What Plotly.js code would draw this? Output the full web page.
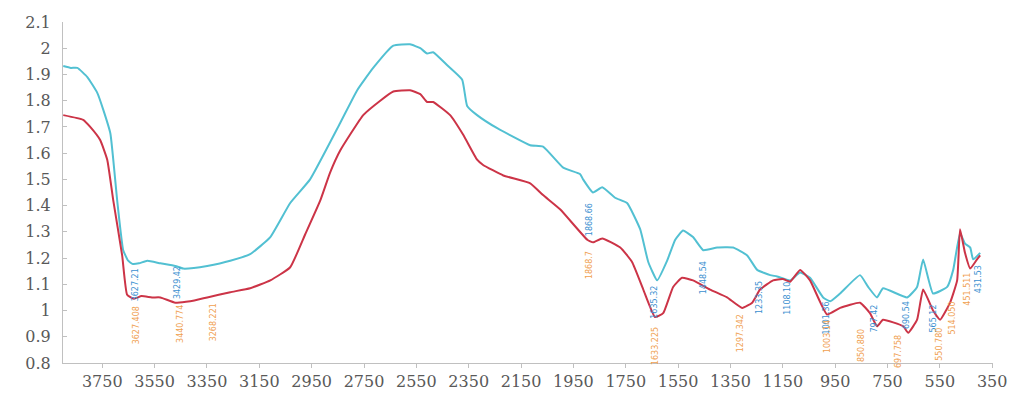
<!DOCTYPE html>
<html>
<head>
<meta charset="utf-8">
<script src="https://cdn.plot.ly/plotly-3.0.1.min.js"></script>
<style>html,body{margin:0;padding:0;background:#fff;}#chart{width:1011px;height:395px;}</style>
</head>
<body>
<div id="chart"></div>
<script>
// Upper (cyan) spectrum
const cyanWn = [3899,3870,3845,3807,3769,3746,3719,3693,3670,3651,3635,3610,3578,3528,3471,3441,3400,3349,3261,3185,3108,3032,2956,2841,2776,2715,2638,2574,2535,2509,2486,2432,2375,2356,2318,2241,2115,2066,1989,1924,1913,1875,1840,1791,1745,1695,1664,1630,1592,1561,1531,1493,1454,1401,1340,1286,1248,1198,1172,1122,1084,1046,996,969,931,855,824,790,767,675,637,614,576,522,499,473,454,434,423,396];
const cyanVal = [1.932,1.925,1.925,1.89,1.83,1.765,1.675,1.42,1.23,1.19,1.178,1.18,1.19,1.18,1.17,1.16,1.162,1.17,1.19,1.215,1.28,1.41,1.50,1.715,1.84,1.925,2.01,2.015,2.0,1.98,1.985,1.935,1.88,1.78,1.745,1.695,1.63,1.625,1.545,1.52,1.50,1.45,1.47,1.43,1.41,1.31,1.185,1.115,1.19,1.27,1.305,1.28,1.23,1.24,1.24,1.21,1.155,1.135,1.13,1.115,1.145,1.125,1.05,1.035,1.065,1.135,1.09,1.05,1.085,1.05,1.09,1.195,1.065,1.09,1.155,1.295,1.255,1.24,1.195,1.22];

// Lower (red) spectrum
const redWn = [3899,3823,3796,3758,3731,3708,3674,3655,3630,3600,3560,3528,3471,3414,3349,3261,3185,3108,3032,2975,2917,2880,2841,2753,2688,2638,2574,2535,2509,2486,2421,2371,2318,2295,2218,2115,2066,2000,1897,1875,1840,1771,1726,1683,1638,1607,1569,1535,1493,1428,1363,1305,1267,1237,1187,1150,1122,1084,1046,981,931,855,817,790,767,690,671,637,614,576,549,511,484,473,454,434,408,396];
const redVal = [1.745,1.727,1.70,1.65,1.575,1.42,1.21,1.06,1.045,1.055,1.05,1.05,1.03,1.035,1.05,1.07,1.085,1.115,1.165,1.29,1.42,1.525,1.61,1.745,1.80,1.835,1.84,1.825,1.795,1.795,1.745,1.67,1.575,1.555,1.515,1.485,1.44,1.385,1.27,1.26,1.275,1.24,1.185,1.08,0.975,0.99,1.09,1.125,1.115,1.08,1.05,1.01,1.03,1.08,1.115,1.12,1.11,1.155,1.115,0.985,1.01,1.03,0.99,0.94,0.965,0.94,0.915,0.965,1.08,1.0,0.965,1.03,1.115,1.31,1.22,1.16,1.195,1.21];

// Peak labels (blue: upper series, orange: lower series)
const blueLabelText = ["3627.21","3429.42","1868.66","1635.32","1448.54","1233.35","1108.10","1001.36","797.42","690.54","565.12","431.53"];
const blueLabelX    = [3624,3464,1890,1638,1454,1237,1130,985,801,679,576,404];
const blueLabelY    = [1.097,1.105,1.345,1.03,1.124,1.048,1.045,0.97,0.97,0.983,0.97,1.12];
const orangeLabelText = ["3627.408","3440.774","3268.221","1868.7","1633.225","1297.342","1003.14","850.880","697.758","550.780","514.050","451.511"];
const orangeLabelX    = [3616,3452,3326,1886,1634,1313,980,847,706,549,503,446];
const orangeLabelY    = [0.945,0.95,0.956,1.174,0.865,0.914,0.90,0.865,0.842,0.87,0.97,1.08];

const xTicks = [3750,3550,3350,3150,2950,2750,2550,2350,2150,1950,1750,1550,1350,1150,950,750,550,350];
const yTicks = [0.8,0.9,1,1.1,1.2,1.3,1.4,1.5,1.6,1.7,1.8,1.9,2,2.1];

const traces = [
  {x: cyanWn, y: cyanVal, type: 'scatter', mode: 'lines', line: {color: '#52c0d2', width: 2, shape: 'spline', smoothing: 0.4}, hoverinfo: 'skip'},
  {x: redWn, y: redVal, type: 'scatter', mode: 'lines', line: {color: '#cc3447', width: 2, shape: 'spline', smoothing: 0.4}, hoverinfo: 'skip'}
];

const annotations = [];
blueLabelText.forEach((t, i) => annotations.push({x: blueLabelX[i], y: blueLabelY[i], xref: 'x', yref: 'y', text: t, showarrow: false, textangle: -90, font: {family: 'DejaVu Sans', size: 8, color: '#3a8fd0'}}));
orangeLabelText.forEach((t, i) => annotations.push({x: orangeLabelX[i], y: orangeLabelY[i], xref: 'x', yref: 'y', text: t, showarrow: false, textangle: -90, font: {family: 'DejaVu Sans', size: 8, color: '#f0a050'}}));

const tickFont = {family: 'DejaVu Serif', size: 16, color: '#595959'};
const layout = {
  width: 1011, height: 395,
  margin: {l: 63, r: 18, t: 22, b: 32},
  paper_bgcolor: '#ffffff', plot_bgcolor: '#ffffff',
  showlegend: false,
  xaxis: {
    range: [3900, 347], autorange: false,
    tickmode: 'array', tickvals: xTicks, ticktext: xTicks.map(String),
    showgrid: false, zeroline: false,
    showline: true, linecolor: '#c0c0c0', linewidth: 1,
    ticks: 'outside', ticklen: 4, tickcolor: '#c0c0c0',
    tickfont: tickFont
  },
  yaxis: {
    range: [0.8, 2.1], autorange: false,
    tickmode: 'array', tickvals: yTicks, ticktext: yTicks.map(v => String(v)),
    showgrid: false, zeroline: false,
    showline: true, linecolor: '#c0c0c0', linewidth: 1,
    ticks: 'inside', ticklen: 4, tickcolor: '#c0c0c0',
    tickfont: tickFont, ticklabelstandoff: 8
  },
  annotations: annotations
};
Plotly.newPlot('chart', traces, layout, {staticPlot: true, displayModeBar: false});
</script>
</body>
</html>
